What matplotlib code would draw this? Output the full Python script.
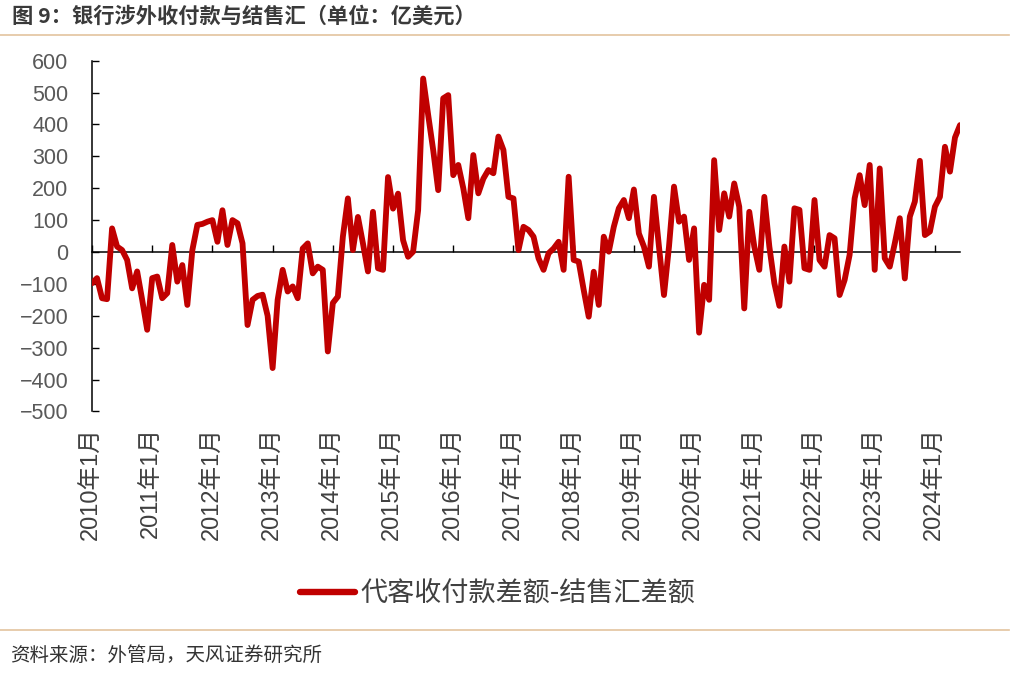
import numpy as np
import pandas as pd
import matplotlib
matplotlib.use('Agg')
import matplotlib.pyplot as plt
from matplotlib.lines import Line2D

# ---------------- data ----------------
start_month = '2010-01'
series_label = '代客收付款差额-结售汇差额'
title_text = '图 9：银行涉外收付款与结售汇（单位：亿美元）'
source_text = '资料来源：外管局，天风证券研究所'

values = [
    -98, -82, -145, -148, 74, 17, 6, -25, -114, -61, -150, -244,          # 2010
    -82, -77, -145, -129, 22, -93, -41, -166, 6, 85, 88, 95,              # 2011
    100, 32, 131, 22, 100, 90, 27, -229, -150, -138, -134, -200,          # 2012
    -364, -150, -56, -124, -108, -145, 11, 27, -67, -46, -56, -312,       # 2013
    -160, -140, 48, 168, 6, 110, 27, -61, 126, -51, -56, 235,             # 2014
    136, 183, 37, -15, 1, 131, 544, 430, 320, 194, 482, 492,              # 2015
    241, 273, 200, 106, 304, 184, 230, 257, 247, 362, 320, 173,           # 2016
    168, 6, 79, 69, 48, -20, -56, -4, 11, 32, -56, 236,                   # 2017
    -25, -30, -119, -203, -62, -166, 48, 1, 79, 137, 163, 106,            # 2018
    196, 58, 17, -46, 173, 17, -135, 17, 205, 95, 111, -25,               # 2019
    74, -253, -103, -150, 288, 69, 184, 111, 215, 142, -177, 126,         # 2020
    17, -56, 173, 17, -98, -169, 17, -93, 137, 132, -51, -56,             # 2021
    163, -25, -46, 53, 43, -135, -88, -9, 168, 241, 147, 273,             # 2022
    -56, 262, -20, -46, 27, 106, -83, 111, 158, 286, 53, 64,              # 2023
    142, 173, 330, 252, 359, 398,                                         # 2024
]
y_ticks = list(range(-500, 601, 100))

# ---------------- derived ----------------
months = pd.date_range(start_month, periods=len(values), freq='MS')
x = np.arange(len(values))
jan_pos = [i for i, d in enumerate(months) if d.month == 1]
jan_labels = [f'{months[i].year}年1月' for i in jan_pos]

plt.rcParams['font.family'] = ['Liberation Sans', 'Noto Sans CJK SC', 'DejaVu Sans']
plt.rcParams['axes.unicode_minus'] = True

fig = plt.figure(figsize=(10.24, 6.79), dpi=100)
ax = fig.add_axes([92 / 1024, 1 - 411.4 / 679, (960 - 92) / 1024, (411.4 - 60.7) / 679])

line_color = '#C00000'
ax.plot(x, values, color=line_color, lw=4.2, solid_joinstyle='round',
        solid_capstyle='round', label=series_label, zorder=3)

ax.set_xlim(0, len(values) - 1)
ax.set_ylim(-500, 600)
ax.set_yticks(y_ticks)

# spines
for s in ['top', 'right']:
    ax.spines[s].set_visible(False)
ax.spines['left'].set_linewidth(1.1)
ax.spines['left'].set_color('black')
ax.spines['bottom'].set_position(('data', 0))
ax.spines['bottom'].set_linewidth(1.1)
ax.spines['bottom'].set_color('black')
ax.spines['bottom'].set_zorder(2)

ax.tick_params(axis='y', direction='in', length=5, width=1.0, pad=17,
               labelsize=15.5, labelcolor='#595959', color='black')
ax.set_xticks(jan_pos)
ax.tick_params(axis='x', direction='in', length=5, width=1.0, labelbottom=False,
               color='black')

# labels at bottom of the plot
sec = ax.secondary_xaxis('bottom')
sec.spines['bottom'].set_visible(False)
sec.set_xticks(jan_pos)
sec.set_xticklabels(jan_labels)
sec.tick_params(axis='x', length=0, pad=11, labelrotation=90, labelsize=17,
                labelcolor='#404040')

# legend
handle = Line2D([], [], color=line_color, lw=4.6, solid_capstyle='round')
fig.legend([handle], [series_label], loc='center', bbox_to_anchor=(0.486, 0.125),
           frameon=False, handlelength=2.0, handletextpad=0.2,
           prop={'family': ['Noto Sans CJK SC', 'DejaVu Sans'], 'size': 19.5},
           labelcolor='#404040')

# title, rules, source
fig.text(12 / 1024, 1 - 16 / 679, title_text, fontsize=15.3, fontweight='bold',
         va='center', ha='left', color='#3a3a3a',
         family=['Noto Sans CJK SC', 'DejaVu Sans'])
rule_color = '#E3C49E'
fig.add_artist(Line2D([0, 0.985], [1 - 35 / 679] * 2, color=rule_color, lw=1.2,
                      transform=fig.transFigure))
fig.add_artist(Line2D([0, 0.985], [1 - 630 / 679] * 2, color=rule_color, lw=1.2,
                      transform=fig.transFigure))
fig.text(10 / 1024, 1 - 655 / 679, source_text, fontsize=14, va='center', ha='left',
         color='#333333', family=['Noto Sans CJK SC', 'DejaVu Sans'])

fig.savefig('out.png', dpi=100, facecolor='white')
